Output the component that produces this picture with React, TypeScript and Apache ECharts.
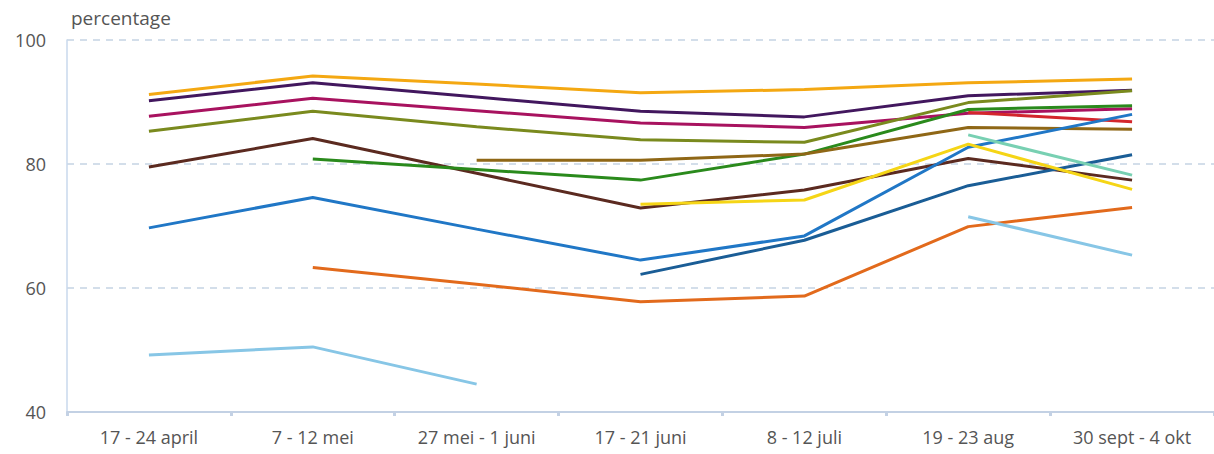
import React, { useEffect, useRef } from "react";
import * as echarts from "echarts";

const categories = [
  "17 - 24 april",
  "7 - 12 mei",
  "27 mei - 1 juni",
  "17 - 21 juni",
  "8 - 12 juli",
  "19 - 23 aug",
  "30 sept - 4 okt",
];

const yTicks = { min: 40, max: 100, interval: 20 };

const sGold = [91.2, 94.2, 92.9, 91.5, 92.0, 93.1, 93.7];
const sPurple = [90.2, 93.1, 90.8, 88.5, 87.6, 91.0, 91.9];
const sMagenta = [87.7, 90.6, 88.6, 86.6, 85.9, 88.2, 88.9];
const sOlive = [85.3, 88.5, 86.0, 83.9, 83.5, 89.9, 91.8];
const sDarkBrown = [79.5, 84.1, 78.5, 72.9, 75.8, 80.9, 77.4];
const sGreen = [null, 80.8, 79.1, 77.4, 81.6, 88.8, 89.4];
const sOchre = [null, null, 80.6, 80.6, 81.6, 85.9, 85.6];
const sRed = [null, null, null, null, null, 88.3, 86.8];
const sBlue = [69.7, 74.6, 69.5, 64.5, 68.4, 82.7, 88.0];
const sDarkBlue = [null, null, null, 62.2, 67.7, 76.5, 81.5];
const sOrange = [null, 63.3, 60.6, 57.8, 58.7, 69.9, 73.0];
const sYellow = [null, null, null, 73.5, 74.2, 83.2, 75.9];
const sMint = [null, null, null, null, null, 84.7, 78.2];
const sLightBlue = [49.2, 50.5, 44.5, null, null, 71.5, 65.3];

const seriesDefs = [
  { name: "gold", data: sGold, color: "#f4a812" },
  { name: "purple", data: sPurple, color: "#42175e" },
  { name: "magenta", data: sMagenta, color: "#a8125f" },
  { name: "olive", data: sOlive, color: "#7a8a1e" },
  { name: "darkbrown", data: sDarkBrown, color: "#5b2a20" },
  { name: "green", data: sGreen, color: "#2a8a1c" },
  { name: "ochre", data: sOchre, color: "#8f6716" },
  { name: "red", data: sRed, color: "#d3262c" },
  { name: "blue", data: sBlue, color: "#2077c6" },
  { name: "darkblue", data: sDarkBlue, color: "#1a5d96" },
  { name: "orange", data: sOrange, color: "#e26a1c" },
  { name: "yellow", data: sYellow, color: "#f5d516" },
  { name: "mint", data: sMint, color: "#78d0b2" },
  { name: "lightblue", data: sLightBlue, color: "#87c6e6" },
];

export default function App() {
  const ref = useRef<HTMLDivElement>(null);
  useEffect(() => {
    if (!ref.current) return;
    const chart = echarts.init(ref.current, undefined, { renderer: "svg" });
    const font = "'Open Sans', 'Noto Sans', sans-serif";
    chart.setOption({
      animation: false,
      backgroundColor: "#ffffff",
      title: {
        text: "percentage",
        left: 66,
        top: 3,
        textStyle: { fontSize: 19, fontWeight: "normal", color: "#555", fontFamily: font },
      },
      grid: { left: 67, top: 40, width: 1155, height: 372, containLabel: false },
      xAxis: {
        type: "category",
        data: categories,
        boundaryGap: true,
        axisLine: { show: true, lineStyle: { color: "#c3d1e4", width: 2 } },
        axisTick: { show: true, length: 4, lineStyle: { color: "#c3d1e4", width: 3 } },
        axisLabel: { fontSize: 18, color: "#555", fontFamily: font, margin: 16 },
        splitLine: { show: false },
      },
      yAxis: {
        type: "value",
        min: yTicks.min,
        max: yTicks.max,
        interval: yTicks.interval,
        axisLine: { show: true, lineStyle: { color: "#c9d8ec", width: 1.5 } },
        axisTick: { show: false },
        axisLabel: { fontSize: 18, color: "#555", fontFamily: font, margin: 21 },
        splitLine: { show: true, lineStyle: { color: "#c5d3e4", type: [7, 6], width: 1.5 } },
      },
      series: seriesDefs.map((s) => ({
        name: s.name,
        type: "line",
        data: s.data,
        symbol: "none",
        connectNulls: false,
        lineStyle: { color: s.color, width: 3 },
        itemStyle: { color: s.color },
      })),
    });
    return () => chart.dispose();
  }, []);
  return (
    <div
      ref={ref}
      style={{ position: "fixed", left: 0, top: 0, width: 1214, height: 454 }}
    />
  );
}
